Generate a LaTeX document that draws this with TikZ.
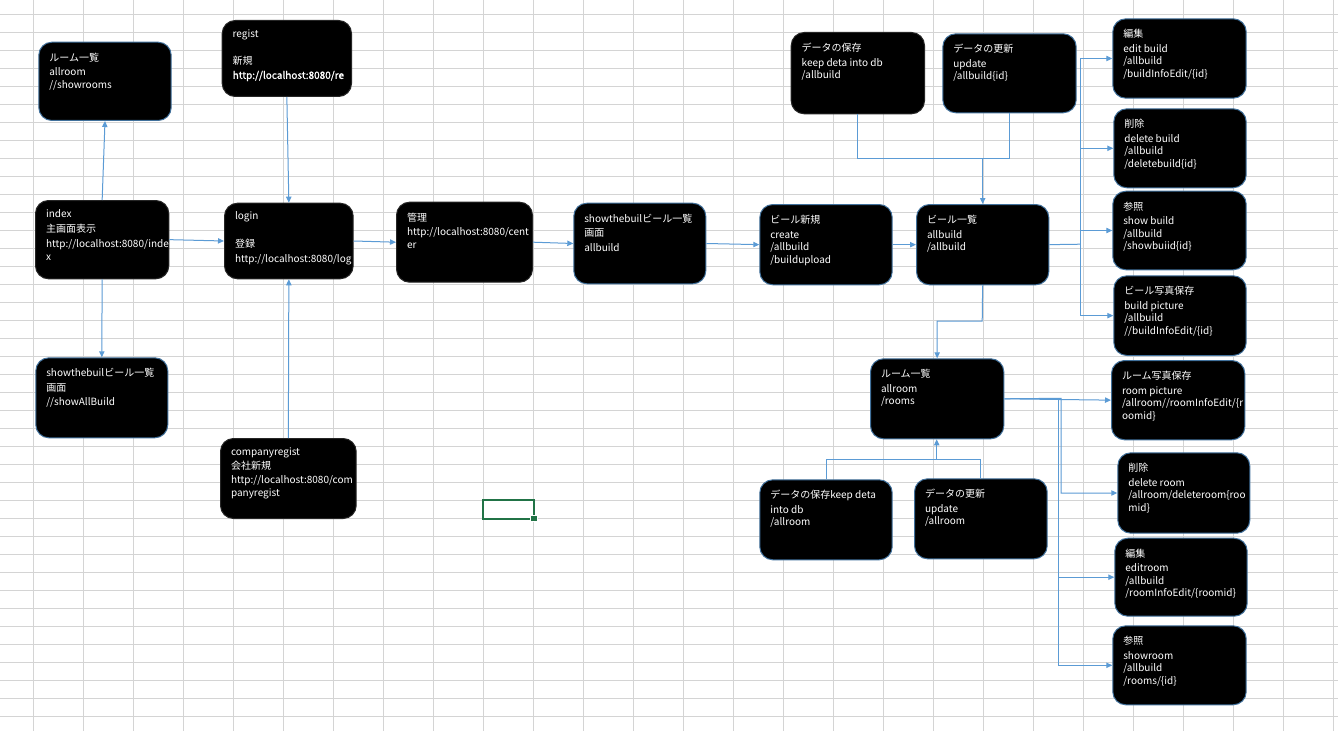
\documentclass[tikz,border=0pt]{standalone}
\usepackage{fontspec}
\newfontfamily\jpfont{Noto Sans CJK JP}
\newfontfamily\jpheavy{Noto Sans CJK JP}[FakeBold=1.3]
\usetikzlibrary{arrows.meta}

% one screen pixel
\newlength\pxu
\setlength\pxu{0.75pt}

% card body: width, height (in pixels), lines of text set from the top
\newcommand\boxbody[3]{\parbox[c][\dimexpr#2\pxu-16\pxu\relax][t]{\dimexpr#1\pxu-21\pxu\relax}{\raggedright\hyphenpenalty=10000\exhyphenpenalty=10000\strut#3}}
% taller strut for a first line in Japanese
\newcommand\jtop{\rule{0pt}{11\pxu}}

\definecolor{edgeblue}{HTML}{41719C}
\definecolor{linkblue}{HTML}{5B9BD5}
\definecolor{gridgray}{HTML}{D4D4D4}
\definecolor{cellgreen}{HTML}{217346}

\tikzset{
  card/.style={draw=edgeblue, fill=black, text=white, rounded corners=9.75pt,
    line width=0.75pt, inner xsep=7.875pt, inner ysep=6pt, anchor=north west,
    font=\jpfont\fontsize{7.5pt}{9.4pt}\selectfont},
  darkcard/.style={card, draw=black!85},
  plain/.style={draw=linkblue, line width=0.75pt},
  link/.style={plain, -{Triangle[length=4.5pt,width=4pt]}},
  gridline/.style={draw=gridgray, line width=0.75pt},
}

\begin{document}
\begin{tikzpicture}[x=0.75pt, y=-0.75pt]
\useasboundingbox (0,0) rectangle (1338,731);
\fill[white] (0,0) rectangle (1338,731);

% sheet grid
\foreach \gx in {0,...,26} \draw[gridline] ({33.3+50*\gx},0) -- ++(0,731);
\foreach \gy in {0,...,39} \draw[gridline] (0,{14.7+18*\gy}) -- ++(1338,0);

% selected cell with its fill handle
\draw[cellgreen, line width=1.5pt] (483,500) rectangle (533.5,518.5);
\fill[cellgreen, draw=white, line width=0.5pt] (530.5,515) rectangle (537,521.5);

% left column
\node[card] (rooms1) at (38.3,41.7) {\boxbody{132.4}{78.3}{\jtop ルーム一覧\\[2\pxu] allroom\\ //showrooms}};
\node[darkcard] (index) at (35,200) {\boxbody{133.3}{78.3}{index\\[3\pxu] 主画面表示\\[2.5\pxu] http://localhost:8080/inde\\[0.5\pxu] x}};
\node[card] (showall) at (35.3,357.3) {\boxbody{132}{80}{\jtop showthebuilビール一覧\\[2\pxu] 画面\\[2\pxu] //showAllBuild}};

% login column
\node[darkcard] (regist) at (221.7,20) {\boxbody{129.3}{76}{regist\\ \mbox{}\\[2\pxu] 新規\\[2\pxu] {\jpheavy http://localhost:8080/re}}};
\node[darkcard] (login) at (224,202.7) {\boxbody{128.7}{75.6}{login\\ \mbox{}\\[2\pxu] 登録\\[2.5\pxu] http://localhost:8080/log}};
\node[darkcard] (compreg) at (220,438) {\boxbody{135.7}{80}{companyregist\\[1.5\pxu] 会社新規\\[2\pxu] http://localhost:8080/com\\ panyregist}};

% main flow
\node[darkcard] (kanri) at (396,201.7) {\boxbody{136}{80}{\jtop 管理\\[2\pxu] http://localhost:8080/cent\\ er}};
\node[card] (showbuild) at (573.3,202.7) {\boxbody{132}{80.6}{\jtop showthebuilビール一覧\\[2\pxu] 画面\\[2\pxu] allbuild}};
\node[card] (bnew) at (759.3,204) {\boxbody{132.4}{80.3}{\jtop ビール新規\\[2\pxu] create\\ /allbuild\\ /buildupload}};
\node[card] (blist) at (916,204) {\boxbody{132.3}{80.3}{\jtop ビール一覧\\[2\pxu] allbuild\\ /allbuild}};

% building data
\node[darkcard] (dsave) at (790.7,32) {\boxbody{133.3}{81.3}{\jtop データの保存\\[2\pxu] keep deta into db\\ /allbuild}};
\node[card] (dupd) at (942.3,33.3) {\boxbody{133.4}{79}{\jtop データの更新\\[2\pxu] update\\ /allbuild\{id\}}};

% building actions
\node[card] (bedit) at (1112.3,18.3) {\boxbody{133.4}{79.4}{\jtop 編集\\[2\pxu] edit build\\ /allbuild\\ /buildInfoEdit/\{id\}}};
\node[card] (bdel) at (1113.3,108.3) {\boxbody{132.4}{79}{\jtop 削除\\[2\pxu] delete build\\ /allbuild\\ /deletebuild\{id\}}};
\node[card] (bshow) at (1112.3,190.7) {\boxbody{133.4}{78.6}{\jtop 参照\\[2\pxu] show build\\ /allbuild\\ /showbuiid\{id\}}};
\node[card] (bphoto) at (1113.3,275.3) {\boxbody{132.4}{79.7}{\jtop ビール写真保存\\[2\pxu] build picture\\ /allbuild\\ //buildInfoEdit/\{id\}}};

% rooms
\node[card] (rlist) at (870,358.3) {\boxbody{133.3}{80}{\jtop ルーム一覧\\[2\pxu] allroom\\ /rooms}};
\node[card] (rsave) at (759.3,479.3) {\boxbody{132.4}{80}{\jtop データの保存keep deta\\[2\pxu] into db\\ /allroom}};
\node[card] (rupd) at (914,478.3) {\boxbody{132.7}{80}{\jtop データの更新\\[2\pxu] update\\ /allroom}};

% room actions
\node[card] (rphoto) at (1111,360) {\boxbody{133.3}{79.3}{\jtop ルーム写真保存\\[2\pxu] room picture\\ /allroom//roomInfoEdit/\{r\\ oomid\}}};
\node[card] (rdel) at (1117.3,452.3) {\boxbody{132}{80.4}{\jtop 削除\\[2\pxu] delete room\\ /allroom/deleteroom\{roo\\ mid\}}};
\node[card] (redit) at (1114.3,537.7) {\boxbody{132.4}{78}{\jtop 編集\\[2\pxu] editroom\\ /allbuild\\ /roomInfoEdit/\{roomid\}}};
\node[card] (rshow) at (1112.3,625.3) {\boxbody{133.4}{79}{\jtop 参照\\[2\pxu] showroom\\ /allbuild\\ /rooms/\{id\}}};

% connectors around the entry page
\draw[link] (index.north) -- (rooms1.south);
\draw[link] (index.south) -- (showall.north);
\draw[link] (index.east) -- (login.west);
\draw[link] (regist.south) -- (login.north);
\draw[link] (compreg.north) -- (login.south);

% main flow
\draw[link] (login.east) -- (kanri.west);
\draw[link] (kanri.east) -- (showbuild.west);
\draw[link] (showbuild.east) -- (bnew.west);
\draw[link] (bnew.east) -- (blist.west);

% building data feeding the list
\coordinate (bjoin) at (982.7,158.3);
\draw[plain] (dsave.south) |- (bjoin);
\draw[plain] (dupd.south) |- (bjoin);
\draw[link] (bjoin) -- (bjoin |- blist.north);

% building actions bus
\coordinate (bbus) at (1080.7,244.2);
\draw[plain] (blist.east) -- (bbus);
\foreach \t in {bedit,bdel,bshow,bphoto} \draw[link] (bbus) |- (\t.west);

% building list to room list
\coordinate (bdown) at (982.2,321);
\draw[link] (blist.south) -- (bdown) -| (rlist.north);

% room data feeding the room list
\coordinate (rjoin) at (936.7,459.3);
\draw[plain] (rsave.north) |- (rjoin);
\draw[plain] (rupd.north) |- (rjoin);
\draw[link] (rjoin) -- (rjoin |- rlist.south);

% room actions bus
\coordinate (rbusA) at (1061,398.3);
\coordinate (rbusB) at (1058.3,398.3);
\draw[link] (rlist.east) -- (rphoto.west);
\draw[link] (rlist.east) -- (rbusA) |- (rdel.west);
\draw[link] (rbusB) |- (redit.west);
\draw[link] (rbusB) |- (rshow.west);
\end{tikzpicture}
\end{document}
